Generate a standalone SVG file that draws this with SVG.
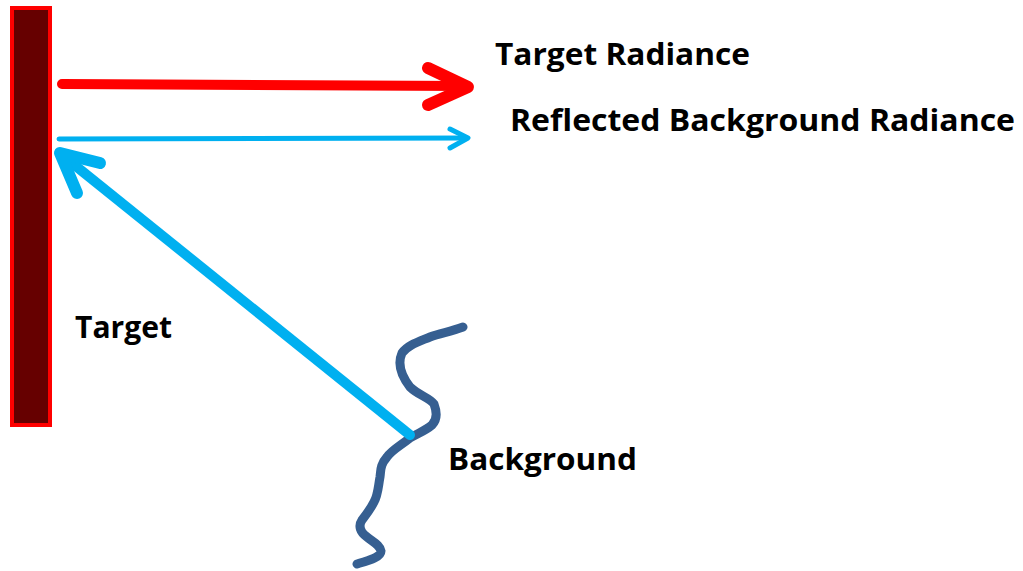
<svg xmlns="http://www.w3.org/2000/svg" width="1023" height="571" viewBox="0 0 1023 571">
  <style>
    .lbl { font-family: "Open Sans", "Liberation Sans", sans-serif; font-weight: bold; font-size: 31px; fill: #000; }
    .red { stroke: #FF0000; fill: none; stroke-linecap: round; stroke-linejoin: round; }
    .sky { stroke: #00B0F0; fill: none; stroke-linecap: round; stroke-linejoin: round; }
  </style>
  <rect width="1023" height="571" fill="#fff"/>

  <g id="target">
    <rect x="12" y="8" width="38" height="417" fill="#660000" stroke="#FF0000" stroke-width="4"/>
    <text class="lbl" x="75" y="338" textLength="97" lengthAdjust="spacingAndGlyphs">Target</text>
  </g>

  <g id="background">
    <path d="M463,327 C450,332 440,333 430,337 C418,342 408,345 402,353 C398,362 400,374 410,387 C418,395 430,398 434,404 C437,412 437,420 432,425 C425,431 418,433 410,438 C400,446 392,450 387,457 C380,465 381,470 380,477 C378,488 378,495 374,502 C370,510 365,516 362,520 C358,526 360,532 367,537 C373,542 380,545 381,551 C381,557 370,560 357,564" fill="none" stroke="#365F91" stroke-width="9" stroke-linecap="round" stroke-linejoin="round"/>
    <text class="lbl" x="448" y="470" textLength="189" lengthAdjust="spacingAndGlyphs">Background</text>
  </g>

  <g id="connectors">
    <!-- target radiance -->
    <path class="red" d="M62,84 L466,86" stroke-width="10" stroke-linecap="butt"/>
    <path class="red" d="M428,68 L468,87 L428,105" stroke-width="12"/>
    <!-- reflected background radiance -->
    <path class="sky" d="M59,139 L466,138" stroke-width="5" stroke-linecap="butt"/>
    <path class="sky" d="M450,129 L468,138 L450,148" stroke-width="5"/>
    <!-- background to target -->
    <path class="sky" d="M410,435 L62,155" stroke-width="10" stroke-linecap="butt"/>
    <path class="sky" d="M100,163 L60,153 L77,193" stroke-width="12"/>
  </g>

  <g id="labels">
    <text class="lbl" x="495" y="65" textLength="255" lengthAdjust="spacingAndGlyphs">Target Radiance</text>
    <text class="lbl" x="510" y="131" textLength="505" lengthAdjust="spacingAndGlyphs">Reflected Background Radiance</text>
  </g>
</svg>
